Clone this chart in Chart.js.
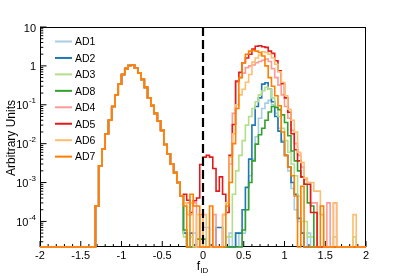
<!DOCTYPE html>
<html>
<head>
<meta charset="utf-8">
<title>f_ID</title>
<script src="https://cdn.jsdelivr.net/npm/chart.js@4.4.1/dist/chart.umd.min.js"></script>
<style>
  html, body { margin: 0; padding: 0; background: #ffffff; }
  #box { position: relative; width: 407px; height: 276px; }
</style>
</head>
<body>
<div id="box"><canvas id="myChart"></canvas></div>
<script>
// 100 bins of 0.04 between -2 and 2
var xMin = -2, xMax = 2, binWidth = 0.04;
var yMin = 2.2e-5, yMax = 10;

var labels = ["AD1", "AD2", "AD3", "AD8", "AD4", "AD5", "AD6", "AD7"];
var colors = ["#a6cee3", "#1f78b4", "#b2df8a", "#33a02c", "#fb9a99", "#e31a1c", "#fdbf6f", "#ff7f00"];

// bins 0..43 (x < -0.24), same for every AD
var leftPeak = [0, 0, 0, 0, 0, 0, 0, 0, 0, 0,
  0, 0, 0, 0, 0, 0, 0, 2.5e-4, 2.7e-3, 7.2e-3,
  0.018, 0.04, 0.09, 0.18, 0.34, 0.6, 0.85, 1.02, 1.05, 0.88,
  0.65, 0.45, 0.28, 0.15, 0.095, 0.06, 0.038, 0.022, 0.0095, 5.5e-3,
  3e-3, 1.8e-3, 1e-3, 4.5e-4];

// bins 44..99 (x from -0.24 to 2)
var ad1 = [5e-5, 0, 0, 5e-5, 0, 0, 7e-5, 7e-5,
  0, 0, 0, 0, 0, 0, 5e-5, 0, 5e-5, 0,
  5e-5, 2e-4, 1.5e-3, 4e-3, 0.015, 0.045, 0.08, 0.11, 0.13, 0.1,
  0.06, 0.025, 0.012, 5e-3, 2e-3, 7e-4, 2e-4, 1e-4, 5e-5, 0,
  5e-5, 0, 0, 0, 0, 0, 0, 0, 0, 0,
  0, 0, 0, 0, 0, 0, 0, 0];
var ad2 = [5e-5, 0, 5e-5, 0, 0, 0, 0, 0,
  0, 0, 7e-5, 7e-5, 0, 0, 0, 0, 5e-5, 5e-5,
  2e-4, 7.5e-4, 4e-3, 0.03, 0.09, 0.15, 0.34, 0.37, 0.25, 0.12,
  0.05, 0.021, 0.011, 5e-3, 2.5e-3, 1e-3, 5e-4, 1.2e-4, 5e-5, 0,
  0, 0, 0, 0, 0, 0, 0, 0, 0, 0,
  0, 0, 0, 0, 0, 0, 0, 0];
var ad3 = [4e-5, 0, 4e-5, 0, 0, 0, 0, 0,
  0, 0, 0, 0, 0, 4e-5, 4e-5, 5e-4, 2e-3, 5e-3,
  0.012, 0.03, 0.05, 0.08, 0.12, 0.18, 0.23, 0.28, 0.25, 0.15,
  0.09, 0.05, 0.025, 0.012, 6e-3, 3e-3, 1.5e-3, 4.5e-4, 1e-4, 1e-4,
  4e-5, 4e-5, 0, 0, 0, 0, 0, 0, 4e-5, 0,
  0, 0, 0, 0, 4e-5, 0, 0, 0];
var ad8 = [6e-5, 0, 0, 0, 3.5e-5, 3.5e-5, 3.5e-5, 0,
  0, 0, 0, 0, 0, 0, 0, 0, 0, 0,
  6e-5, 2e-4, 1e-3, 3.6e-3, 9.7e-3, 0.017, 0.025, 0.04, 0.065, 0.09,
  0.085, 0.075, 0.055, 0.035, 0.016, 6.5e-3, 3.6e-3, 2e-3, 1.4e-3, 9e-4,
  3e-4, 2.5e-4, 0, 0, 0, 0, 0, 0, 0, 0,
  0, 0, 0, 0, 0, 0, 0, 0];
var ad4 = [3e-4, 3e-4, 1.5e-4, 3e-4, 0, 1.5e-4, 0, 0,
  0, 1.5e-4, 0, 0, 1.5e-4, 3e-4, 3e-3, 0.06, 0.38, 0.5,
  0.65, 0.9, 1.0, 1.05, 1.2, 1.3, 1.4, 1.5, 1.3, 0.85,
  0.5, 0.32, 0.18, 0.09, 0.045, 0.022, 0.01, 5e-3, 2.5e-3, 1.2e-3,
  1e-3, 3e-4, 3e-4, 0, 0, 0, 3e-4, 0, 3e-4, 0,
  0, 0, 0, 0, 0, 0, 0, 0];
var ad5 = [5e-4, 3.5e-4, 1.7e-4, 3.4e-4, 4e-4, 2.9e-3, 4.5e-3, 5e-3,
  4.5e-3, 2.3e-3, 6e-4, 1.4e-3, 5e-4, 1.7e-4, 5e-3, 0.031, 0.41, 0.68,
  1.2, 1.6, 2.0, 2.7, 3.2, 3.3, 3.1, 3.0, 2.4, 2.1,
  1.35, 0.75, 0.35, 0.15, 0.064, 0.018, 7e-3, 3.6e-3, 1.4e-3, 9e-4,
  9e-4, 1.7e-4, 1.7e-4, 0, 0, 0, 0, 0, 0, 0,
  0, 0, 0, 0, 0, 0, 0, 0];
var ad6 = [3e-4, 1.5e-4, 3e-4, 0, 1.5e-4, 0, 1.5e-4, 0,
  0, 0, 0, 0, 1.5e-4, 3e-4, 4.5e-3, 0.018, 0.1, 0.18,
  0.25, 0.38, 0.6, 1.25, 1.6, 1.9, 2.3, 2.2, 2.0, 1.6,
  1.1, 0.7, 0.38, 0.17, 0.077, 0.04, 0.02, 6e-3, 3.3e-3, 1.3e-3,
  1e-3, 1e-3, 6e-4, 6e-4, 1.5e-4, 0, 0, 0, 3e-4, 0,
  0, 0, 0, 0, 1.5e-4, 0, 0, 0];
var ad7 = [2.5e-4, 0, 5e-4, 2.5e-4, 2.5e-4, 0, 0, 0,
  2.5e-4, 0, 0, 0, 0, 2.5e-4, 1e-3, 0.01, 0.08, 0.5,
  1.2, 2.0, 2.4, 2.5, 2.4, 2.2, 1.8, 1.0, 0.5, 0.3,
  0.17, 0.094, 0.02, 5e-3, 2.5e-3, 1.5e-3, 4.5e-4, 0, 8e-4, 0,
  0, 0, 0, 0, 2.5e-4, 0, 0, 0, 0, 0,
  0, 0, 0, 0, 0, 0, 0, 0];

var xTicks = [-2, -1.5, -1, -0.5, 0, 0.5, 1, 1.5, 2];
var xTickLabels = ["-2", "-1.5", "-1", "-0.5", "0", "0.5", "1", "1.5", "2"];
var yTicks = [1e-4, 1e-3, 1e-2, 1e-1, 1, 10];
var yTickLabels = ["10^{-4}", "10^{-3}", "10^{-2}", "10^{-1}", "1", "10"];
var cutValue = 0;

var series = [ad1, ad2, ad3, ad8, ad4, ad5, ad6, ad7];
var font = "'Liberation Sans', Arial, Helvetica, sans-serif";

function histPoints(vals) {
  var pts = [];
  for (var i = 0; i < vals.length; i++) {
    pts.push({ x: +(xMin + i * binWidth).toFixed(2), y: vals[i] > 0 ? vals[i] : yMin });
  }
  pts.push({ x: xMax, y: pts[pts.length - 1].y });
  return pts;
}

var datasets = [];
for (var k = 0; k < series.length; k++) {
  datasets.push({
    label: labels[k],
    data: histPoints(leftPeak.concat(series[k])),
    borderColor: colors[k],
    borderWidth: 1.6,
    stepped: true,
    pointRadius: 0,
    fill: false,
    order: series.length - k,
    clip: { left: 0, top: 0, right: 0, bottom: 2 }
  });
}
datasets.push({
  label: "cut",
  data: [{ x: cutValue, y: yMax }, { x: cutValue, y: yMin }],
  borderColor: "#000000",
  borderWidth: 2.2,
  borderDash: [9, 4],
  pointRadius: 0,
  fill: false,
  order: 0
});

function drawPow(ctx, label, xRight, py) {
  var m = label.match(/^(.*)\^\{(.*)\}$/);
  ctx.textAlign = "right";
  ctx.textBaseline = "alphabetic";
  if (!m) {
    ctx.font = "11px " + font;
    ctx.fillText(label, xRight, py + 4.5);
    return;
  }
  ctx.font = "8px " + font;
  var w = ctx.measureText(m[2]).width;
  ctx.fillText(m[2], xRight, py - 1.5);
  ctx.font = "11px " + font;
  ctx.fillText(m[1], xRight - w - 0.5, py + 4.5);
}

var rootStyle = {
  id: "rootStyle",
  beforeDatasetsDraw: function (chart) {
    var ctx = chart.ctx, a = chart.chartArea;
    var xs = chart.scales.x, ys = chart.scales.y;
    ctx.save();
    ctx.strokeStyle = "#000000";
    ctx.lineWidth = 1;
    ctx.strokeRect(a.left + 0.5, a.top + 0.5, a.right - a.left - 1, a.bottom - a.top - 1);
    ctx.beginPath();
    for (var t = 0; t <= 40; t++) {
      var px = xs.getPixelForValue(xMin + t * 0.1);
      var len = (t % 5 === 0) ? 6 : 3;
      ctx.moveTo(px, a.bottom);
      ctx.lineTo(px, a.bottom - len);
    }
    for (var e = -5; e <= 1; e++) {
      for (var m = 1; m <= 9; m++) {
        var v = m * Math.pow(10, e);
        if (v < yMin || v > yMax * 1.0001) continue;
        var py = ys.getPixelForValue(v);
        ctx.moveTo(a.left, py);
        ctx.lineTo(a.left + (m === 1 ? 6.5 : 3.3), py);
      }
    }
    ctx.stroke();
    ctx.restore();
  },
  afterDraw: function (chart) {
    var ctx = chart.ctx, a = chart.chartArea;
    var xs = chart.scales.x, ys = chart.scales.y;
    ctx.save();
    ctx.fillStyle = "#000000";

    ctx.font = "11px " + font;
    ctx.textAlign = "center";
    ctx.textBaseline = "alphabetic";
    for (var i = 0; i < xTicks.length; i++) {
      ctx.fillText(xTickLabels[i], xs.getPixelForValue(xTicks[i]), 259);
    }
    for (var j = 0; j < yTicks.length; j++) {
      drawPow(ctx, yTickLabels[j], a.left - 4, ys.getPixelForValue(yTicks[j]));
    }

    // axis titles
    ctx.save();
    ctx.translate(14.5, 100);
    ctx.rotate(-Math.PI / 2);
    ctx.font = "12px " + font;
    ctx.textAlign = "right";
    ctx.fillText("Arbitrary Units", 0, 0);
    ctx.restore();

    ctx.textAlign = "left";
    ctx.font = "12px " + font;
    var fx = 196.7;
    ctx.fillText("f", fx, 270);
    var fw = ctx.measureText("f").width;
    ctx.font = "8px " + font;
    ctx.fillText("ID", fx + fw + 0.3, 272.5);

    // legend
    ctx.font = "10.5px " + font;
    for (var n = 0; n < labels.length; n++) {
      var ly = 41.5 + n * 16.45;
      ctx.strokeStyle = colors[n];
      ctx.lineWidth = 2;
      ctx.beginPath();
      ctx.moveTo(55, ly);
      ctx.lineTo(72, ly);
      ctx.stroke();
      ctx.fillText(labels[n], 75, ly + 3.8);
    }
    ctx.restore();
  }
};

new Chart("myChart", {
  type: "line",
  data: { datasets: datasets },
  options: {
    responsive: true,
    maintainAspectRatio: false,
    devicePixelRatio: 1,
    animation: false,
    layout: { padding: { left: 40, right: 41, top: 27, bottom: 29 } },
    plugins: { legend: { display: false }, tooltip: { enabled: false } },
    elements: { line: { tension: 0 } },
    scales: {
      x: { type: "linear", min: xMin, max: xMax, bounds: "data", display: false },
      y: { type: "logarithmic", min: yMin, max: yMax, bounds: "data", display: false }
    }
  },
  plugins: [rootStyle]
});
</script>
</body>
</html>
